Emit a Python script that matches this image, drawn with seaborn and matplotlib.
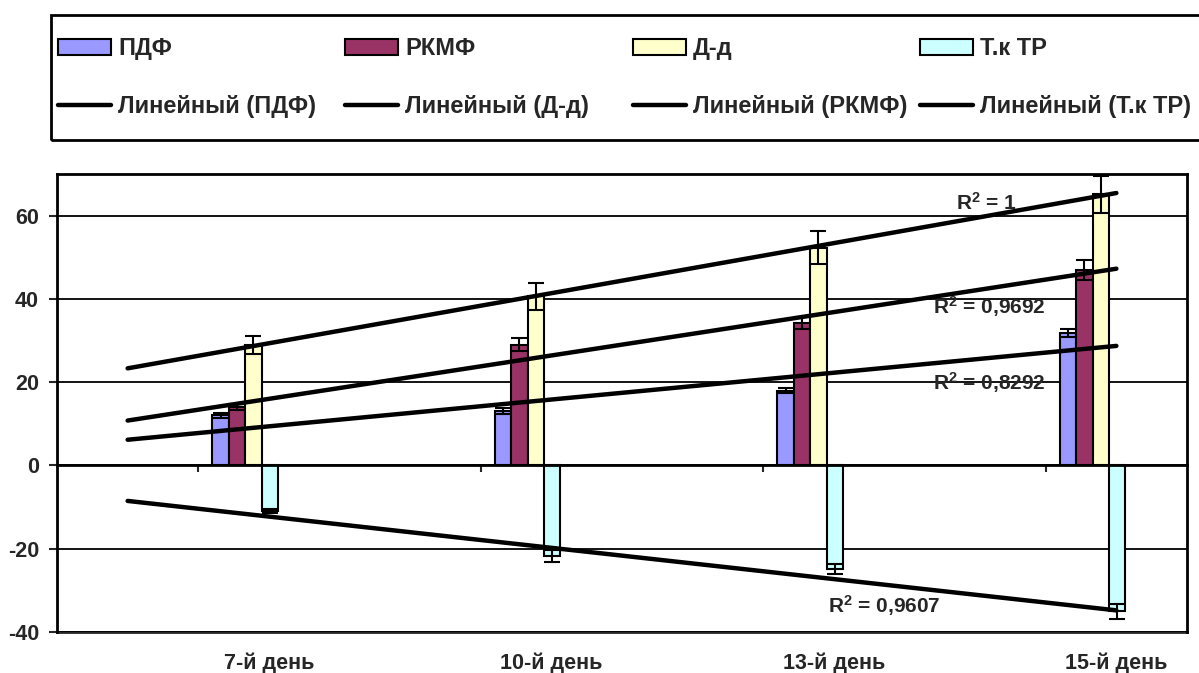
import numpy as np
import matplotlib
matplotlib.use("Agg")
import matplotlib.pyplot as plt
from matplotlib.patches import Patch, Rectangle
from matplotlib.lines import Line2D
import seaborn as sns

# --- data -------------------------------------------------------------
days = ["7-й день", "10-й день", "13-й день", "15-й день"]
series = ["ПДФ", "РКМФ", "Д-д", "Т.к ТР"]

pdf_vals = [12.0, 13.0, 18.0, 31.8]
pdf_err = [0.5, 0.7, 0.5, 1.0]
rkmf_vals = [14.0, 29.0, 34.2, 47.0]
rkmf_err = [0.8, 1.5, 1.5, 2.4]
dd_vals = [28.9, 40.6, 52.3, 65.1]
dd_err = [2.2, 3.2, 4.0, 4.4]
tk_vals = [-11.0, -21.7, -24.8, -35.0]
tk_err = [0.5, 1.5, 1.2, 1.8]

r2_text = ["0,8292", "0,9692", "1", "0,9607"]   # same order as series
y_ticks = [-40, -20, 0, 20, 40, 60]
colors = ["#9999FF", "#993366", "#FFFFCC", "#CCFFFF"]

values = [pdf_vals, rkmf_vals, dd_vals, tk_vals]
errors = [pdf_err, rkmf_err, dd_err, tk_err]

# --- style ------------------------------------------------------------
sns.set_style("white")
plt.rcParams["font.family"] = ["Liberation Sans", "DejaVu Sans"]
plt.rcParams["font.weight"] = "bold"
plt.rcParams["axes.unicode_minus"] = False
plt.rcParams["mathtext.fontset"] = "custom"
plt.rcParams["mathtext.rm"] = "Liberation Sans:bold"
plt.rcParams["mathtext.it"] = "Liberation Sans:bold"
plt.rcParams["mathtext.bf"] = "Liberation Sans:bold"

W, H = 1199, 673
fig = plt.figure(figsize=(W / 100, H / 100), dpi=100)
ax = fig.add_axes([57 / W, 41 / H, 1130 / W, 458 / H])

idx = np.arange(len(days))
bar_w = 0.058
group_shift = 0.166
trend_anchor = idx + 0.195          # x used for the linear fits
trend_x = np.array([-0.25, 3.25])   # fitted lines extended a quarter step

# bars, error bars and linear trend lines
for j, (name, vals, errs, col) in enumerate(zip(series, values, errors, colors)):
    xpos = idx + group_shift + (j - 1.5) * bar_w
    sns.barplot(x=xpos, y=vals, native_scale=True, width=bar_w, color=col,
                saturation=1, edgecolor="black", linewidth=1.5, ax=ax, zorder=2)
    ax.errorbar(xpos, vals, yerr=errs, fmt="none", ecolor="black",
                elinewidth=1.5, capsize=5.5, capthick=1.5, zorder=3)
    k, b = np.polyfit(trend_anchor, vals, 1)
    sns.lineplot(x=trend_x, y=k * trend_x + b, color="black", lw=3.2,
                 solid_capstyle="round", ax=ax, zorder=4)

# R² annotations
r2_pos = [(2.80, 20.0), (2.80, 38.1), (2.79, 63.1), (2.43, -33.7)]
for (tx, ty), r2 in zip(r2_pos, r2_text):
    ax.text(tx, ty, "R$^{2}$ = " + r2, ha="center", va="center",
            fontsize=15, fontweight="bold", zorder=1.5)

# axes
ax.set_xlim(-0.5, 3.5)
ax.set_ylim(-40, 70)
ax.set_yticks(y_ticks)
ax.set_xticks(idx)
ax.set_xticklabels([])
ax.set_xlabel("")
ax.set_ylabel("")
ax.yaxis.grid(True, color="black", lw=1.3)
ax.xaxis.grid(False)
ax.set_axisbelow(True)
for s in ax.spines.values():
    s.set_visible(True)
    s.set_color("black")
    s.set_linewidth(2)
ax.spines["bottom"].set_position(("data", 0))
ax.tick_params(axis="x", bottom=True, direction="out", length=5, width=1.5)
ax.tick_params(axis="y", left=True, direction="out", length=6, width=1.5,
               labelsize=15.5, pad=7)
for t in ax.get_yticklabels():
    t.set_fontweight("bold")

sec = ax.secondary_xaxis("bottom", functions=(lambda x: x - 0.25, lambda x: x + 0.25))
sec.set_xticks(idx, labels=days)
sec.tick_params(length=0, pad=15, labelsize=15.5)
sec.spines["bottom"].set_linewidth(2)
for t in sec.get_xticklabels():
    t.set_fontweight("bold")

# legend: one two-row column per series, inside a common frame
trend_names = ["ПДФ", "Д-д", "РКМФ", "Т.к ТР"]
col_x = [58, 345, 633, 920]
for c in range(4):
    handles = [Patch(facecolor=colors[c], edgecolor="black", lw=1.5),
               Line2D([], [], color="black", lw=3.2, solid_capstyle="round")]
    labels = [series[c], f"Линейный ({trend_names[c]})"]
    fig.legend(handles, labels, loc="upper left",
               bbox_to_anchor=(col_x[c] / W, 1 - 37 / H), frameon=False,
               prop={"size": 17, "weight": "bold"}, handlelength=2.25,
               handleheight=0.65, handletextpad=0.3, labelspacing=1.5,
               borderpad=0, borderaxespad=0)
fig.add_artist(Rectangle((51 / W, 1 - 140 / H), 1.2, 125 / H,
                         transform=fig.transFigure, fill=False, lw=2,
                         ec="black"))

fig.savefig("out.png", dpi=100)
